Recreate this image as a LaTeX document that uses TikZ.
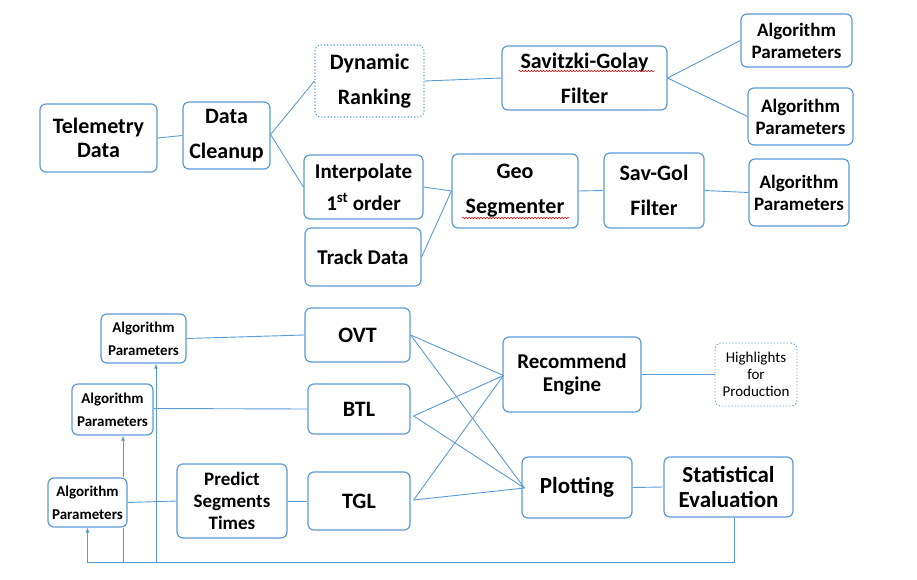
\documentclass[tikz,border=0pt]{standalone}
\usepackage{fontspec}
\setmainfont{Carlito}
\usetikzlibrary{arrows.meta,calc,decorations.pathmorphing}
\definecolor{bl}{RGB}{91,155,213}
\begin{document}
\begin{tikzpicture}[x=1pt,y=-1pt,
  box/.style={draw=bl,line width=1.2pt,rounded corners=6pt,fill=white,inner sep=0pt,align=center},
  dbox/.style={box,dotted,line width=1.1pt},
  fs/.style 2 args={font=\bfseries\fontsize{#1}{#2}\selectfont},
  conn/.style={draw=bl,line width=0.9pt},
  arr/.style={conn,-{Latex[length=5pt,width=4pt]}},
  squig/.style={draw=red!80!black,line width=0.5pt,decorate,decoration={snake,segment length=3pt,amplitude=0.8pt}}
]
\useasboundingbox (0,0) rectangle (917,580);
% top part
\node[box,fs={22}{24},minimum width=117pt,minimum height=68pt] (tel) at (98.5,138) {Telemetry\\Data};
\node[box,fs={22}{35},minimum width=87pt,minimum height=67pt] (dc) at (226.5,135.5) {Data\\Cleanup};
\node[dbox,fs={22}{35},minimum width=109pt,minimum height=72pt] (dyn) at (369.5,81) {Dynamic\\\ \ Ranking};
\node[box,fs={21}{32},minimum width=119pt,minimum height=64pt] (interp) at (363.5,187) {Interpolate\\1\textsuperscript{st} order};
\node[box,fs={21}{32},minimum width=116pt,minimum height=58pt] (track) at (363,257) {Track Data};
\node[box,fs={22}{35},minimum width=165pt,minimum height=64pt] (sg) at (584.5,78) {Savitzki-Golay\\Filter};
\node[box,fs={19}{22},minimum width=111pt,minimum height=53pt] (ap1) at (796.5,40.5) {Algorithm\\Parameters};
\node[box,fs={19}{22},minimum width=105pt,minimum height=57pt] (ap2) at (800.5,116.5) {Algorithm\\Parameters};
\node[box,fs={22}{35},minimum width=126pt,minimum height=74pt] (geo) at (515,191) {Geo\\Segmenter};
\node[box,fs={22}{35},minimum width=100pt,minimum height=75pt] (svg) at (654,190.5) {Sav-Gol\\Filter};
\node[box,fs={19}{22},minimum width=100pt,minimum height=67pt] (ap3) at (799,192.5) {Algorithm\\Parameters};
% spell-check squiggles
\draw[squig] ($(sg.center)+(-66,-7)$) -- ($(sg.center)+(70,-7)$);
\draw[squig] ($(geo.center)+(-53,27)$) -- ($(geo.center)+(54,27)$);
% top connectors
\draw[conn] (tel.east) -- (dc.west);
\draw[conn] ($(dc.east)+(0,-1)$) -- (dyn.west);
\draw[conn] ($(dc.east)+(0,-1)$) -- (interp.west);
\draw[conn] (dyn.east) -- (sg.west);
\draw[conn] (sg.east) -- (ap1.west);
\draw[conn] (sg.east) -- (ap2.west);
\draw[conn] (interp.east) -- (geo.west);
\draw[conn] (track.east) -- (geo.west);
\draw[conn] (geo.east) -- (svg.west);
\draw[conn] (svg.east) -- (ap3.west);
% bottom part
\node[box,fs={15}{23},minimum width=85pt,minimum height=49pt] (apa) at (143.5,338.5) {Algorithm\\Parameters};
\node[box,fs={15}{23},minimum width=81pt,minimum height=51pt] (apb) at (112.5,409.5) {Algorithm\\Parameters};
\node[box,fs={15}{23},minimum width=79pt,minimum height=49pt] (apc) at (87.5,502.5) {Algorithm\\Parameters};
\node[box,fs={22}{24},minimum width=105pt,minimum height=54pt] (ovt) at (357.5,335) {OVT};
\node[box,fs={22}{24},minimum width=102pt,minimum height=50pt] (btl) at (359,409) {BTL};
\node[box,fs={22}{24},minimum width=102pt,minimum height=58pt] (tgl) at (359,501) {TGL};
\node[box,fs={19}{21.7},minimum width=110pt,minimum height=74pt] (pred) at (232,501) {Predict\\Segments\\Times};
\node[box,fs={21}{23},minimum width=138pt,minimum height=75pt] (rec) at (572,374.5) {Recommend\\Engine};
\node[dbox,font=\fontsize{15}{16.7}\selectfont,line width=0.9pt,minimum width=82pt,minimum height=63pt] (hl) at (756,374.5) {Highlights\\for\\Production};
\node[box,fs={23}{25},minimum width=110pt,minimum height=61pt] (plot) at (577,487.5) {Plotting};
\node[box,fs={23}{25},minimum width=129pt,minimum height=60pt] (stat) at (728.5,487) {Statistical\\Evaluation};
% bottom connectors
\draw[conn] (apa.east) -- (ovt.west);
\draw[conn] ($(apb.east)+(0,-1)$) -- (btl.west);
\draw[conn] (apc.east) -- (pred.west);
\draw[conn] (pred.east) -- (tgl.west);
\coordinate (btlo) at ($(btl.east)+(3,7)$);
\coordinate (tglo) at ($(tgl.east)+(3,-1)$);
\coordinate (reci) at ($(rec.west)+(1,1)$);
\coordinate (ploti) at ($(plot.west)+(3,0.5)$);
\draw[conn] (ovt.east) -- (reci);
\draw[conn] (ovt.east) -- (ploti);
\draw[conn] (btlo) -- (reci);
\draw[conn] (btlo) -- (ploti);
\draw[conn] (tglo) -- (reci);
\draw[conn] (tglo) -- (ploti);
\draw[conn] (rec.east) -- (hl.west);
\draw[conn] (plot.east) -- (stat.west);
% feedback loop
\coordinate (fbr) at ($(stat.south)+(5.5,45)$);
\coordinate (fbb) at (123,562);
\coordinate (fba) at (156,562);
\draw[arr] ($(stat.south)+(5.5,0)$) -- (fbr) -| (apc.south);
\draw[conn] (fbb) -- (fbb |- apc.south);
\draw[arr] (fbb |- apc.north) -- (fbb |- apb.south);
\draw[arr] (fba) -- (fba |- apa.south);
\end{tikzpicture}
\end{document}
